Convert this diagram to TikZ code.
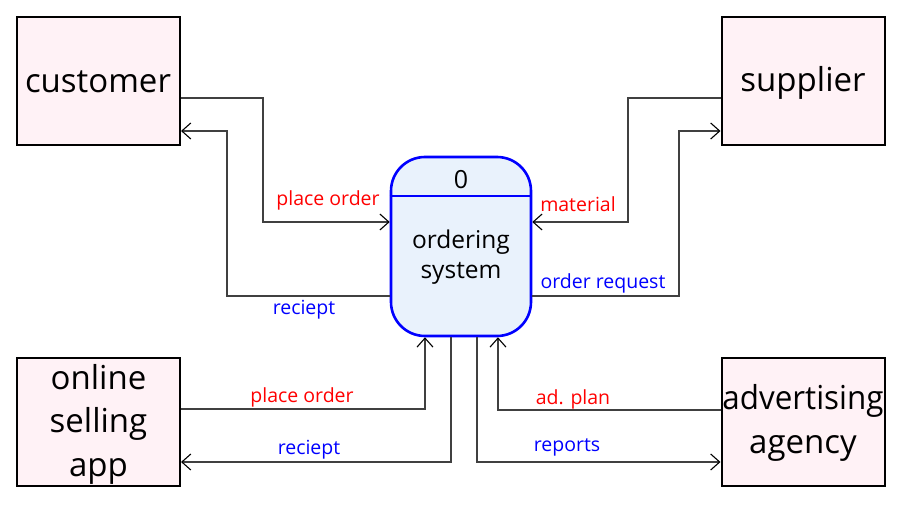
\documentclass[tikz,border=0pt]{standalone}
\usepackage{graphicx}
\usepackage{fontspec}
\setmainfont{Open Sans}
\usetikzlibrary{arrows.meta}
\definecolor{boxpink}{HTML}{FFF2F6}
\definecolor{procfill}{HTML}{E9F2FC}
\definecolor{linegray}{HTML}{404040}
\tikzset{
  entity/.style={draw=black, line width=2pt, fill=boxpink, minimum width=163pt, minimum height=128pt, inner sep=0pt},
  etext/.style={inner sep=0pt, align=center, font=\fontsize{33}{43.5}\selectfont},
  proc/.style={draw=blue, line width=2.6pt, fill=procfill, rounded corners=34pt, minimum width=140pt, minimum height=179pt, inner sep=0pt},
  flow/.style={draw=linegray, line width=1.1pt, -{Straight Barb[length=9pt,width=16pt,line width=1.1pt,color=black]}},
  lblred/.style={text=red, font=\fontsize{19.5}{22}\selectfont, inner sep=0pt},
  lblblue/.style={text=blue, font=\fontsize{19.5}{22}\selectfont, inner sep=0pt},
}
\begin{document}
\begin{tikzpicture}[x=1pt,y=-1pt]
\useasboundingbox (0,0) rectangle (903,505);
\node[entity] (cust) at (98.5,81) {};
\node[entity] (supp) at (803,81) {};
\node[entity] (app) at (98.5,421.5) {};
\node[entity] (agcy) at (803,421.5) {};
\node[etext] (custT) at (98,82) {customer};
\node[etext] (suppT) at (803,83) {supplier};
\node[etext] (appT) at (98.5,424) {online\\selling\\app};
\node[etext] (agcyT) at (803,423) {\scalebox{0.95}[1]{advertising}\\agency};
\node[proc] (sys) at (461,246.5) {};
\draw[blue, line width=2.6pt] (sys.west |- 0,196) -- (sys.east |- 0,196);
\node[font=\fontsize{25}{28}\selectfont, inner sep=0pt] (num) at (461,180) {0};
\node[font=\fontsize{24.5}{30}\selectfont, align=center, inner sep=0pt] (name) at (461,257) {ordering\\system};
% customer
\draw[flow] (cust.east |- 0,98) -- (263,98) -- (263,222) -- (sys.west |- 0,222);
\draw[flow] (sys.west |- 0,296) -- (227,296) -- (227,131) -- (cust.east |- 0,131);
% supplier
\draw[flow] (supp.west |- 0,98) -- (628,98) -- (628,222) -- (sys.east |- 0,222);
\draw[flow] (sys.east |- 0,296) -- (679,296) -- (679,131) -- (supp.west |- 0,131);
% online app
\draw[flow] (app.east |- 0,409) -- (425,409) -- (sys.south -| 425,0);
\draw[flow] (sys.south -| 451,0) -- (451,462) -- (app.east |- 0,462);
% agency
\draw[flow] (agcy.west |- 0,410) -- (498,410) -- (sys.south -| 498,0);
\draw[flow] (sys.south -| 477,0) -- (477,462) -- (agcy.west |- 0,462);
% labels
\node[lblred] (l1) at (328,200) {place order};
\node[lblblue] (l2) at (304,310) {reciept};
\node[lblred] (l3) at (578,204) {material};
\node[lblblue] (l4) at (603,283) {order request};
\node[lblred] (l5) at (302,397) {place order};
\node[lblblue] (l6) at (309,450) {reciept};
\node[lblred] (l7) at (573,399) {ad. plan};
\node[lblblue] (l8) at (567,447) {reports};
\end{tikzpicture}
\end{document}
